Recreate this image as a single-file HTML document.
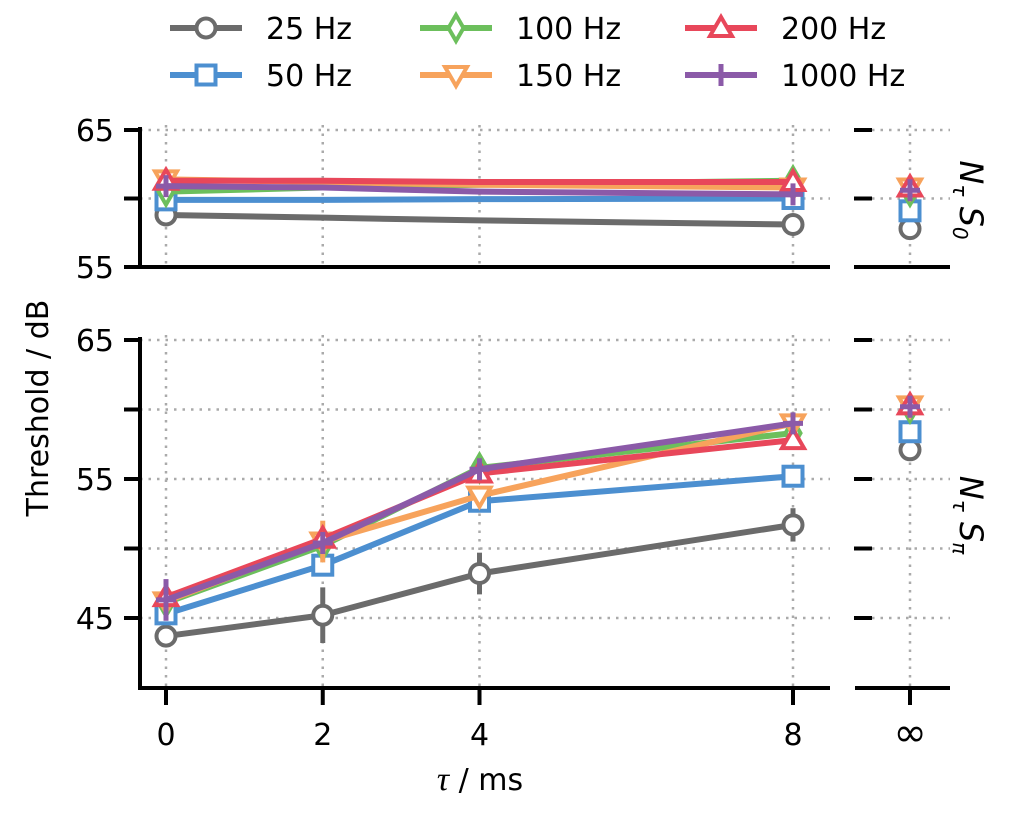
<!DOCTYPE html>
<html><head><meta charset="utf-8"><style>
body{margin:0;background:#fff;}
svg text{font-family:"DejaVu Sans","Liberation Sans",sans-serif;}
</style></head><body>
<svg id="c" width="1020" height="810" xmlns="http://www.w3.org/2000/svg"></svg>
<script>
const series = ["25 Hz","50 Hz","100 Hz","150 Hz","200 Hz","1000 Hz"];
const taus = [0,2,4,8];
const xTickLabels = ["0","2","4","8"];
const top0 = [58.8,59.9,60.5,61.4,61.3,60.9];
const top2 = [58.6,59.9,60.8,61.2,61.3,60.8];
const top4 = [58.4,59.95,61.0,61.0,61.2,60.5];
const top8 = [58.1,60.0,61.3,60.8,61.2,60.3];
const topInf = [57.8,59.1,60.5,60.8,60.8,60.6];
const bot0 = [43.7,45.3,46.1,46.2,46.5,46.3];
const bot2 = [45.2,48.8,50.2,50.5,50.7,50.4];
const bot4 = [48.2,53.4,55.8,53.8,55.4,55.7];
const bot8 = [51.7,55.2,58.3,59.0,57.8,59.0];
const botInf = [57.1,58.4,60.1,60.3,60.3,60.2];
const botErr = [[0,2,1.5,1.2],[0,0.8,0.8,0],[0,0,0,0],[0,1.5,0,0],[0,0,0,0],[1.5,0,0,0]];
const colors=["#6b6b6b","#4c8fd0","#6cbf5c","#f7a35c","#e8475a","#8b5aa8"];
const markers=["circle","square","diamond","tdown","tup","plus"];
const NS="http://www.w3.org/2000/svg";
const svg=document.getElementById("c");
function el(t,a,p){const e=document.createElementNS(NS,t);for(const k in a)e.setAttribute(k,a[k]);(p||svg).appendChild(e);return e;}
const xs=t=>166+(t/8)*(793-166);
const xInf=910;
const yTop=v=>130+(65-v)*13.7;
const yBot=v=>340+(65-v)*13.9;
const grid=el("g",{});


const gs={stroke:"#aaa","stroke-width":2.5,"stroke-dasharray":"2.5,6"};
[[yTop,[65,60,55],130,267],[yBot,[65,60,55,50,45],340,688]].forEach(([f,vals,y0,y1])=>{
  vals.forEach(v=>{el("line",Object.assign({x1:140,x2:830,y1:f(v),y2:f(v)},gs),grid);el("line",Object.assign({x1:855,x2:950,y1:f(v),y2:f(v)},gs),grid);});
  taus.forEach(t=>el("line",Object.assign({x1:xs(t),x2:xs(t),y1:y0-5,y2:y1},gs),grid));
  el("line",Object.assign({x1:xInf,x2:xInf,y1:y0-5,y2:y1},gs),grid);
});
function axes(f,vals,labels,y0,y1,name){
  const g=el("g",{});
  
  
  el("line",{x1:140,x2:140,y1:y0-3,y2:y1+2,stroke:"#000","stroke-width":4},g);
  el("line",{x1:138,x2:830,y1:y1,y2:y1,stroke:"#000","stroke-width":4},g);
  el("line",{x1:855,x2:950,y1:y1,y2:y1,stroke:"#000","stroke-width":4},g);
  vals.forEach((v,i)=>{
    el("line",{x1:124,x2:140,y1:f(v),y2:f(v),stroke:"#000","stroke-width":4},g);
    el("line",{x1:854,x2:872,y1:f(v),y2:f(v),stroke:"#000","stroke-width":4},g);
    if(labels[i]){const t=el("text",{x:114,y:f(v)+11,"text-anchor":"end","font-size":30},g);t.textContent=labels[i];}
  });
}
axes(yTop,[65,60,55],["65","","55"],130,267,"top-axes");
axes(yBot,[65,60,55,50,45],["65","","55","","45"],340,688,"bottom-axes");
taus.forEach((t,i)=>{
  el("line",{x1:xs(t),x2:xs(t),y1:688,y2:705,stroke:"#000","stroke-width":4});
  const tx=el("text",{x:xs(t),y:745,"text-anchor":"middle","font-size":30});tx.textContent=xTickLabels[i];
  
  
});
el("line",{x1:xInf,x2:xInf,y1:688,y2:705,stroke:"#000","stroke-width":4});
const inf=el("text",{x:xInf,y:746,"text-anchor":"middle","font-size":40});inf.textContent="∞";


const xl=el("text",{x:480,y:790,"text-anchor":"middle","font-size":30});xl.innerHTML='<tspan font-style="italic" font-family="Liberation Serif" font-size="34">τ</tspan> / ms';


const yl=el("text",{x:0,y:0,"text-anchor":"middle","font-size":30,transform:"translate(48,408) rotate(-90)"});yl.textContent="Threshold / dB";


function sideLabel(y,sub,name){
  const t=el("text",{x:0,y:0,"font-size":32,"font-style":"italic","font-family":"Liberation Serif","text-anchor":"middle",transform:`translate(960,${y}) rotate(90)`});
  t.innerHTML=`N<tspan font-size="20" dy="7">τ</tspan><tspan dy="-7"> S</tspan><tspan font-size="20" dy="7">${sub}</tspan>`;
  
  
}
sideLabel(200,"0","condition-label-n-tau-s0");
sideLabel(515,"π","condition-label-n-tau-spi");
function marker(type,x,y,c,p){
  const s={fill:"#fff",stroke:c,"stroke-width":4};
  if(type=="circle")el("circle",Object.assign({cx:x,cy:y,r:9.5},s),p);
  else if(type=="square")el("rect",Object.assign({x:x-9.5,y:y-9.5,width:19,height:19},s),p);
  else if(type=="diamond")el("polygon",Object.assign({points:`${x},${y-13} ${x+7.5},${y} ${x},${y+13} ${x-7.5},${y}`},s),p);
  else if(type=="tdown")el("polygon",Object.assign({points:`${x-11},${y-8} ${x+11},${y-8} ${x},${y+11}`},s),p);
  else if(type=="tup")el("polygon",Object.assign({points:`${x-11},${y+8} ${x+11},${y+8} ${x},${y-11}`},s),p);
  else el("path",{d:`M${x-10},${y}H${x+10}M${x},${y-11}V${y+11}`,stroke:c,"stroke-width":5,fill:"none"},p);
}
const topCols=[top0,top2,top4,top8], botCols=[bot0,bot2,bot4,bot8];
series.forEach((s,i)=>{
  const g=el("g",{});
  
  
  const c=colors[i];
  el("polyline",{points:topCols.map((col,j)=>xs(taus[j])+","+yTop(col[i])).join(" "),fill:"none",stroke:c,"stroke-width":6,"stroke-linejoin":"round"},g);
  el("polyline",{points:botCols.map((col,j)=>xs(taus[j])+","+yBot(col[i])).join(" "),fill:"none",stroke:c,"stroke-width":6,"stroke-linejoin":"round"},g);
  botCols.forEach((col,j)=>{const e=botErr[i][j];if(e>0)el("line",{x1:xs(taus[j]),x2:xs(taus[j]),y1:yBot(col[i]-e),y2:yBot(col[i]+e),stroke:c,"stroke-width":5},g);});
  [0,3].forEach(j=>marker(markers[i],xs(taus[j]),yTop(topCols[j][i]),c,g));
  botCols.forEach((col,j)=>marker(markers[i],xs(taus[j]),yBot(col[i]),c,g));
  marker(markers[i],xInf,yTop(topInf[i]),c,g);
  marker(markers[i],xInf,yBot(botInf[i]),c,g);
});
const lg=el("g",{});


const lx=[170,420,685], ly=[28,75];
series.forEach((s,i)=>{
  const col=Math.floor(i/2), row=i%2;
  const x=lx[col], y=ly[row];
  const e=el("g",{},lg);
  
  
  el("line",{x1:x,x2:x+72,y1:y,y2:y,stroke:colors[i],"stroke-width":6},e);
  marker(markers[i],x+36,y,colors[i],e);
  const t=el("text",{x:x+96,y:y+11,"font-size":30},e);t.textContent=s;
});
</script>
</body></html>
